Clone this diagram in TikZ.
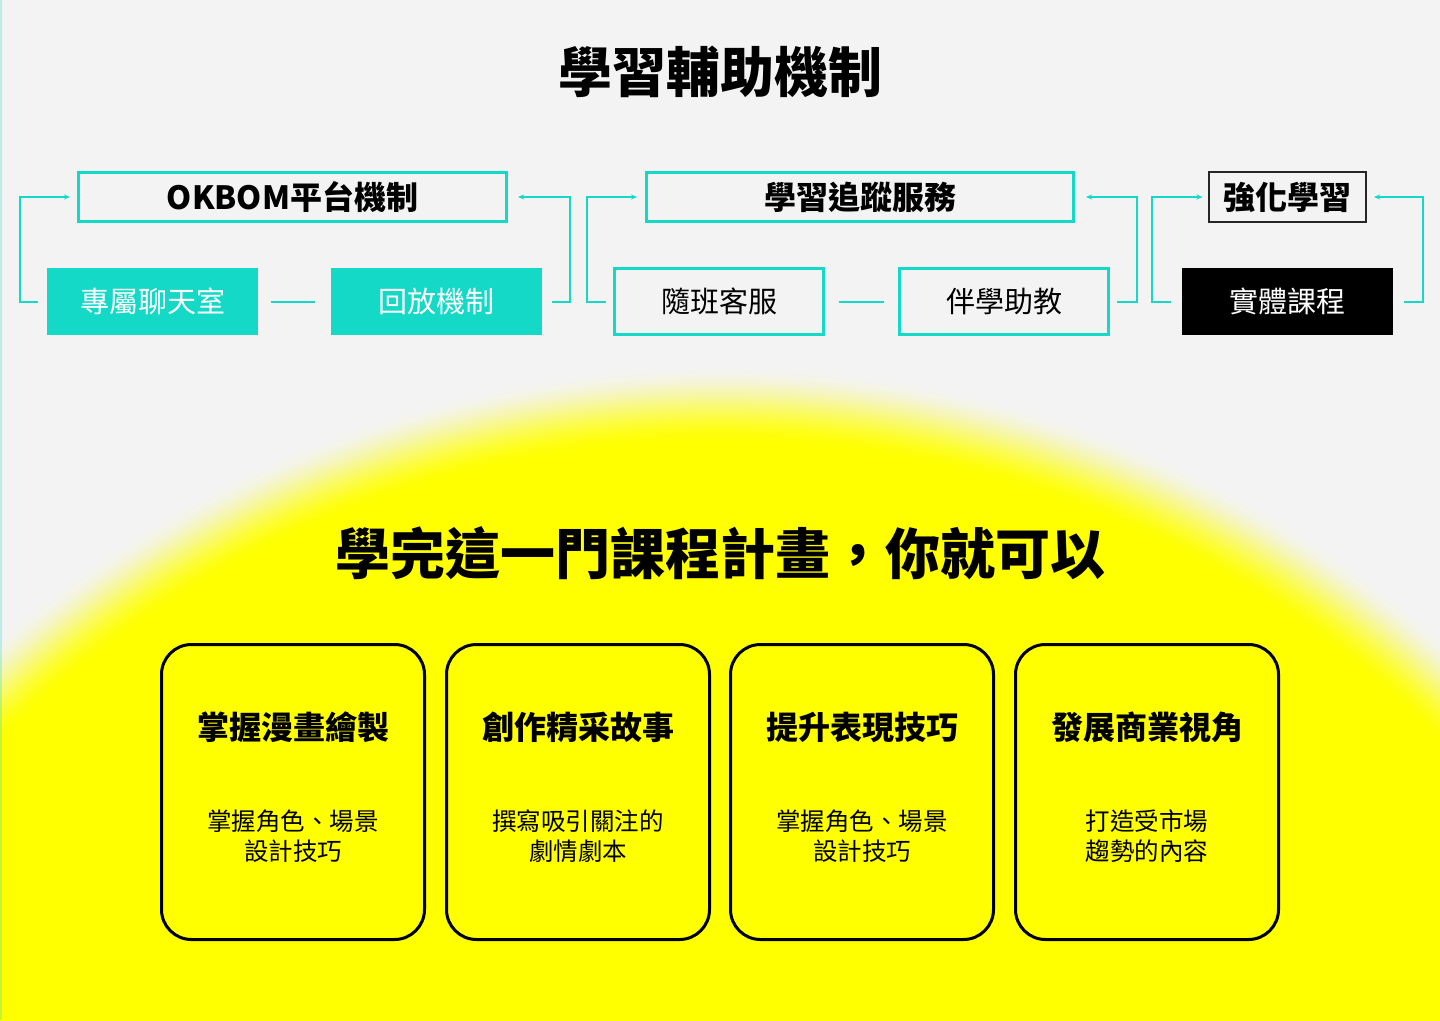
\documentclass[tikz,border=0pt]{standalone}
\usepackage{fontspec}
\setmainfont{Noto Sans CJK TC}
\usetikzlibrary{arrows.meta}
\definecolor{bgc}{HTML}{F3F3F3}
\definecolor{gy}{HTML}{FFFF00}
\definecolor{cy}{HTML}{14D9C7}
\newcommand\myfs[2]{\fontsize{#1}{#2}\selectfont}
\begin{document}
\begin{tikzpicture}[x=1pt,y=-1pt,
  tbox/.style={draw=cy, line width=3pt, inner sep=0pt, font=\myfs{32}{38}\bfseries, text=black},
  lbox/.style={draw=cy, line width=3pt, inner sep=0pt, minimum width=209, minimum height=66, font=\myfs{29}{34}, text=black},
  fbox/.style={fill=cy, inner sep=0pt, minimum width=211, minimum height=67, font=\myfs{29}{34}, text=white},
  conn/.style={draw=cy, line width=2pt},
  arr/.style={conn, -{Stealth[length=6pt,width=5pt]}},
  card/.style={draw=black, line width=3pt, rounded corners=30pt, minimum width=263, minimum height=295, inner sep=0pt},
  ctitle/.style={font=\myfs{32}{38}\bfseries, text=black},
  cbody/.style={font=\myfs{24.5}{30}, align=center, text=black}]
\useasboundingbox (0,0) rectangle (1440,1020);
\fill[bgc] (0,0) rectangle (1440,1020);
\begin{scope}
  \clip (0,0) rectangle (1440,1020);
  % blurred glow: concentric discs from outside in
  \foreach \k in {0,...,39}{
    \pgfmathsetmacro{\rr}{1092-2*\k}
    \pgfmathsetmacro{\tt}{(\k+0.5)/40}
    \pgfmathsetmacro{\pp}{100*(3*\tt*\tt-2*\tt*\tt*\tt)}
    \fill[gy!\pp!bgc] (720,1457) circle[radius=\rr];
  }
  \fill[gy] (720,1457) circle[radius=1013];
\end{scope}
\fill[cy, opacity=0.25] (0,0) rectangle (2,1020);

% titles
\node[font=\myfs{54}{60}\bfseries] (title) at (720,72) {學習輔助機制};
\node[font=\myfs{55}{60}\bfseries] (subtitle) at (720,553) {學完這一門課程計畫，你就可以};

% group 1
\node[tbox, minimum width=428, minimum height=49] (okbom) at (292.5,197) {OKBOM平台機制};
\node[fbox] (chat) at (152.5,301.5) {專屬聊天室};
\node[fbox] (replay) at (436,301.5) {回放機制};
\draw[conn] ([xshift=13pt]chat.east) -- ([xshift=-15pt]replay.west);
\draw[arr] ([xshift=-9pt]chat.west) -- ++(-18,0) |- ([xshift=-7pt]okbom.west);
\draw[arr] ([xshift=10pt]replay.east) -- ++(18,0) |- ([xshift=10pt]okbom.east);

% group 2
\node[tbox, minimum width=427, minimum height=49] (track) at (860,197) {學習追蹤服務};
\node[lbox] (kf) at (719,301.5) {隨班客服};
\node[lbox] (tutor) at (1004,301.5) {伴學助教};
\draw[conn] ([xshift=14pt]kf.east) -- ([xshift=-14pt]tutor.west);
\draw[arr] ([xshift=-7pt]kf.west) -- ++(-19,0) |- ([xshift=-8pt]track.west);
\draw[arr] ([xshift=7pt]tutor.east) -- ++(20,0) |- ([xshift=11pt]track.east);

% group 3
\node[draw=black!85, line width=2pt, inner sep=0pt, minimum width=157, minimum height=50, font=\myfs{32}{38}\bfseries] (boost) at (1287.5,197) {強化學習};
\node[fbox, fill=black] (live) at (1287.5,301.5) {實體課程};
\draw[arr] ([xshift=-11pt]live.west) -- ++(-18.5,0) |- ([xshift=-5.5pt]boost.west);
\draw[arr] ([xshift=11pt]live.east) -- ++(18.5,0) |- ([xshift=7pt]boost.east);

% cards
\foreach \i/\cx/\t/\ba/\bb in {1/293/掌握漫畫繪製/掌握角色、場景/設計技巧,
  2/578/創作精采故事/撰寫吸引關注的/劇情劇本,
  3/862/提升表現技巧/掌握角色、場景/設計技巧,
  4/1147/發展商業視角/打造受市場/趨勢的內容}{
  \node[card] (c\i) at (\cx,792) {};
  \node[ctitle] (t\i) at ([yshift=-84.5pt]c\i.north) {\t};
  \node[cbody] (b\i) at ([yshift=-193.5pt]c\i.north) {\ba\\\bb};
}
\end{tikzpicture}
\end{document}
